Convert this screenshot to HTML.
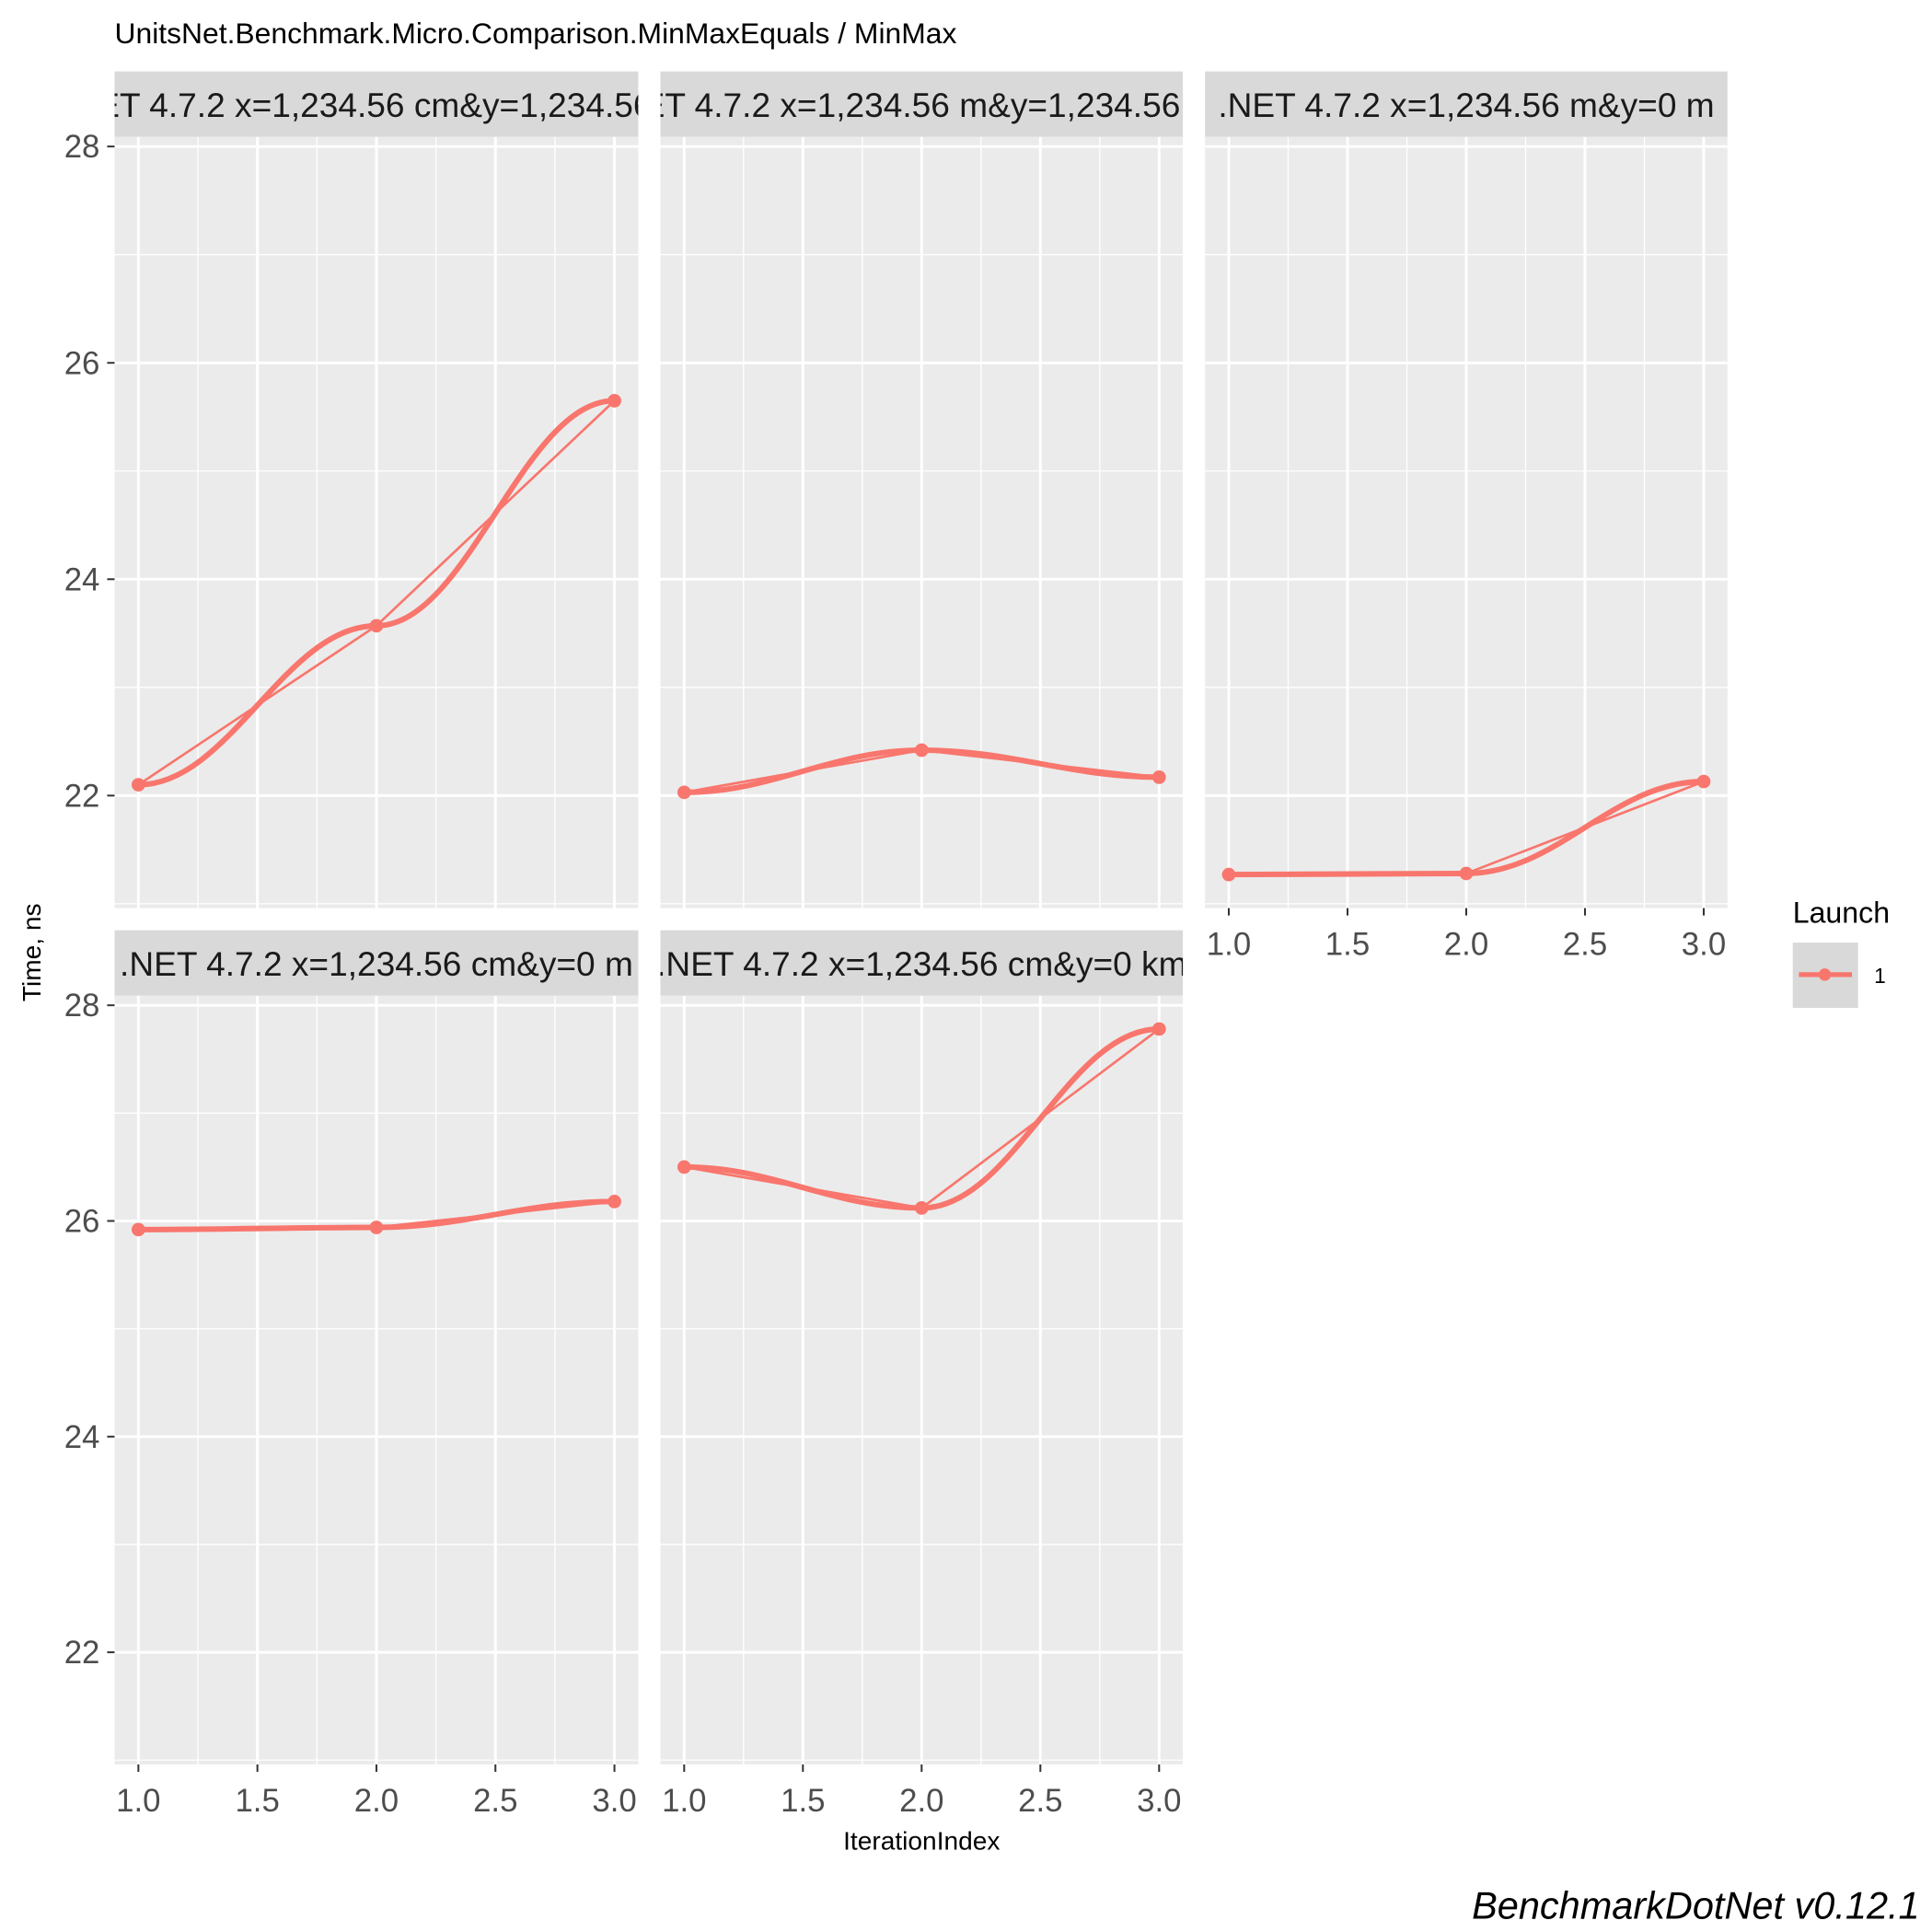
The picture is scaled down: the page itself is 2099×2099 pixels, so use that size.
<!DOCTYPE html>
<html><head><meta charset="utf-8"><style>
html,body{margin:0;padding:0;background:#fff;}
svg{display:block;font-family:"Liberation Sans",Arial,sans-serif;}
</style></head><body>
<svg id="chart" width="2099" height="2099" viewBox="0 0 1568 1568" xmlns="http://www.w3.org/2000/svg">
<rect width="1568" height="1568" fill="#fff"/>
<text x="93" y="35" font-size="23.8" fill="#000">UnitsNet.Benchmark.Micro.Comparison.MinMaxEquals / MinMax</text>
<text transform="translate(33,773) rotate(-90)" text-anchor="middle" font-size="21" fill="#000">Time, ns</text>
<text x="748" y="1501" text-anchor="middle" font-size="21" fill="#000">IterationIndex</text>
<text x="1455" y="749" font-size="24" fill="#000">Launch</text>
<rect x="1455" y="765" width="53" height="53" fill="#D9D9D9"/>
<line x1="1460" y1="791" x2="1503" y2="791" stroke="#F8766D" stroke-width="4"/>
<circle cx="1481" cy="791" r="5" fill="#F8766D"/>
<text x="1521" y="798" font-size="17" fill="#000">1</text>
<text x="1558" y="1557" text-anchor="end" font-size="31" font-style="italic" fill="#000">BenchmarkDotNet v0.12.1</text>
<g id="panels"></g>
</svg>
<script>
const panelTitles=[".NET 4.7.2 x=1,234.56 cm&y=1,234.56 m",".NET 4.7.2 x=1,234.56 m&y=1,234.56 cm",".NET 4.7.2 x=1,234.56 m&y=0 m",".NET 4.7.2 x=1,234.56 cm&y=0 m",".NET 4.7.2 x=1,234.56 cm&y=0 km"];
const iterations=[1,2,3];
const times1=[22.1,23.57,25.65];
const times2=[22.03,22.42,22.17];
const times3=[21.27,21.28,22.13];
const times4=[25.92,25.94,26.18];
const times5=[26.5,26.12,27.78];
const yTicks=[22,24,26,28];
const xTicks=[1.0,1.5,2.0,2.5,3.0];
const allTimes=[times1,times2,times3,times4,times5];

const NS="http://www.w3.org/2000/svg";
const root=document.getElementById('panels');
function mk(tag,attrs,parent){const e=document.createElementNS(NS,tag);for(const k in attrs)e.setAttribute(k,attrs[k]);parent.appendChild(e);return e;}
const cols=[[93,518],[536,960],[978,1402]];
const rows=[[58,111,737],[755,808,1432]];
const yMin=20.96,yMax=28.09,xMin=0.9,xMax=3.1;
const pos=[[0,0],[0,1],[0,2],[1,0],[1,1]];
pos.forEach((p,i)=>{
  const [r,c]=p;const [x0,x1]=cols[c];const [sy,y0,y1]=rows[r];
  const sx=v=>x0+(v-xMin)/(xMax-xMin)*(x1-x0);
  const syf=v=>y1-(v-yMin)/(yMax-yMin)*(y1-y0);
  const g=mk('g',{},root);
  
  
  const clip=mk('clipPath',{id:'clip'+i},g);
  mk('rect',{x:x0,y:sy,width:x1-x0,height:y1-sy},clip);
  const bg=mk('rect',{x:x0,y:y0,width:x1-x0,height:y1-y0,fill:'#EBEBEB'},g);
  
  
  for(let k=0;k<yTicks.length-1;k++){const m=(yTicks[k]+yTicks[k+1])/2;mk('line',{x1:x0,x2:x1,y1:syf(m),y2:syf(m),stroke:'#fff','stroke-width':1},g);}
  mk('line',{x1:x0,x2:x1,y1:syf(21),y2:syf(21),stroke:'#fff','stroke-width':1},g);
  for(let k=0;k<xTicks.length-1;k++){const m=(xTicks[k]+xTicks[k+1])/2;mk('line',{x1:sx(m),x2:sx(m),y1:y0,y2:y1,stroke:'#fff','stroke-width':1},g);}
  yTicks.forEach(t=>mk('line',{x1:x0,x2:x1,y1:syf(t),y2:syf(t),stroke:'#fff','stroke-width':2.2},g));
  xTicks.forEach(t=>mk('line',{x1:sx(t),x2:sx(t),y1:y0,y2:y1,stroke:'#fff','stroke-width':2.2},g));
  const st=mk('rect',{x:x0,y:sy,width:x1-x0,height:y0-sy,fill:'#D9D9D9'},g);
  
  
  const tt=mk('text',{x:(x0+x1)/2,y:sy+37,'text-anchor':'middle','font-size':27.7,fill:'#1a1a1a','clip-path':'url(#clip'+i+')'},g);
  tt.textContent=panelTitles[i];
  
  
  if(c===0){yTicks.forEach(t=>{
    mk('line',{x1:x0-6,x2:x0,y1:syf(t),y2:syf(t),stroke:'#333','stroke-width':1.5},g);
    const l=mk('text',{x:x0-12,y:syf(t)+9,'text-anchor':'end','font-size':26,fill:'#4D4D4D'},g);l.textContent=t;
    
    
  });}
  if(r===1||i===2){xTicks.forEach(t=>{
    mk('line',{x1:sx(t),x2:sx(t),y1:y1,y2:y1+6,stroke:'#333','stroke-width':1.5},g);
    const l=mk('text',{x:sx(t),y:y1+38,'text-anchor':'middle','font-size':26,fill:'#4D4D4D'},g);l.textContent=t.toFixed(1);
    
    
  });}
  const vals=allTimes[i];
  const pts=iterations.map((x,k)=>[sx(x),syf(vals[k])]);
  const straight=mk('polyline',{points:pts.map(q=>q.join(',')).join(' '),fill:'none',stroke:'#F8766D','stroke-width':2},g);
  
  
  let d='M'+pts[0].join(',');
  for(let k=0;k<pts.length-1;k++){
    const p1=pts[k],p2=pts[k+1],dx=(p2[0]-p1[0])/2.6;
    d+=' C'+(p1[0]+dx)+','+p1[1]+' '+(p2[0]-dx)+','+p2[1]+' '+p2.join(',');
  }
  const smooth=mk('path',{d:d,fill:'none',stroke:'#F8766D','stroke-width':4.5},g);
  
  
  pts.forEach(q=>{const cc=mk('circle',{cx:q[0],cy:q[1],r:5.5,fill:'#F8766D'},g);
    
    });
});
</script>
</body></html>
